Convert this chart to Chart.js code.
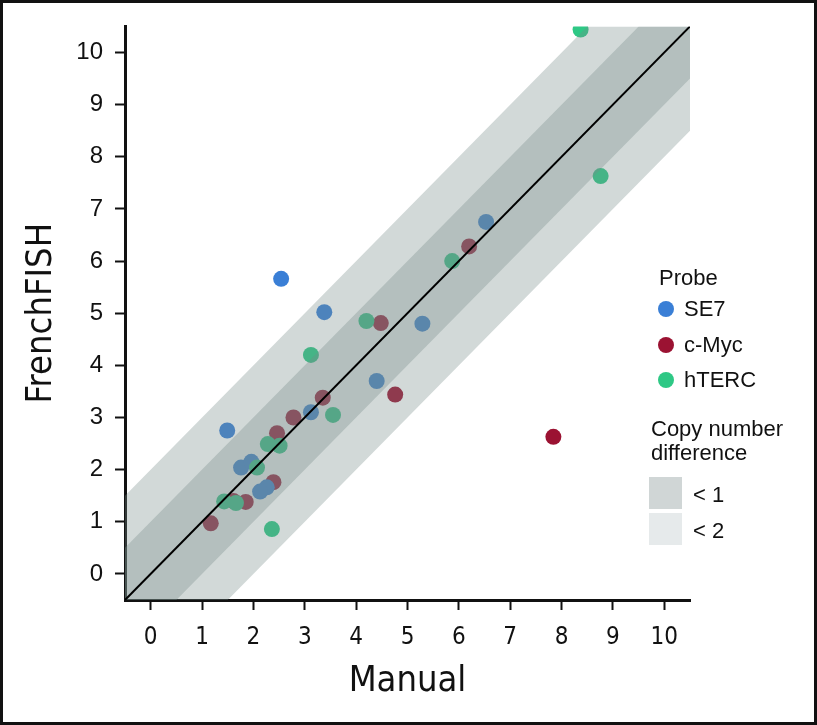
<!DOCTYPE html>
<html>
<head>
<meta charset="utf-8">
<script src="https://cdn.jsdelivr.net/npm/chart.js@4.4.1/dist/chart.umd.min.js"></script>
<style>
  html, body { margin: 0; padding: 0; background: #ffffff; }
  #wrap { position: relative; width: 817px; height: 725px; overflow: hidden; background: #fff; }
  #chart { position: absolute; left: 0; top: 0; }
  #frame { position: absolute; left: 0; top: 0; width: 817px; height: 725px; box-sizing: border-box; border: 3px solid #111; pointer-events: none; }
  .lg { position: absolute; font-family: 'Liberation Sans', Arial, sans-serif; font-size: 22px; line-height: 22px; color: #111; white-space: nowrap; }
  .dot { position: absolute; width: 16px; height: 16px; border-radius: 50%; }
  .sw { position: absolute; width: 33px; height: 32px; }
</style>
</head>
<body>
<div id="wrap">
  <canvas id="chart" width="817" height="725"></canvas>
  <div id="legend"></div>
  <div id="frame"></div>
</div>
<script>
// ---- data ----
const xTickValues = [0, 1, 2, 3, 4, 5, 6, 7, 8, 9, 10];
const yTickValues = [0, 1, 2, 3, 4, 5, 6, 7, 8, 9, 10];
const axisMin = -0.5;
const axisMax = 10.5;

const probeNames = ['SE7', 'c-Myc', 'hTERC'];

const se7Manual     = [2.54, 3.38, 5.29, 4.40, 3.12, 1.49, 1.76, 1.96, 2.26, 2.13, 6.53];
const se7French     = [5.66, 5.02, 4.80, 3.70, 3.10, 2.75, 2.04, 2.15, 1.66, 1.58, 6.75];

const cmycManual    = [4.48, 4.76, 3.35, 2.78, 2.46, 2.39, 1.61, 1.85, 1.17, 6.20, 7.84];
const cmycFrench    = [4.81, 3.44, 3.38, 3.00, 2.70, 1.76, 1.40, 1.38, 0.97, 6.28, 2.63];

const htercManual   = [4.20, 3.12, 3.55, 2.28, 2.51, 2.07, 1.43, 1.66, 2.36, 8.37, 8.76, 5.87];
const htercFrench   = [4.85, 4.20, 3.05, 2.49, 2.46, 2.04, 1.39, 1.36, 0.86, 10.44, 7.63, 6.00];

const bandLabels = ['< 1', '< 2'];
const bandHalfWidths = [1, 2];

// ---- styles ----
const probeColors = ['#3a7fd6', '#9b1232', '#2ec885'];
const bandFill = 'rgba(119,139,137,0.33)';
const swatchColors = ['#d0d6d6', '#e6eaeb'];

function pts(xs, ys) { return xs.map((x, i) => ({ x: x, y: ys[i] })); }

function bandShape(d) {
  return [
    { x: axisMin, y: axisMin },
    { x: axisMin + d, y: axisMin },
    { x: axisMax, y: axisMax - d },
    { x: axisMax, y: axisMax },
    { x: axisMax - d, y: axisMax },
    { x: axisMin, y: axisMin + d },
    { x: axisMin, y: axisMin }
  ];
}

const pointDs = (label, data, color) => ({
  type: 'scatter', label, data,
  pointRadius: 8, pointBorderWidth: 0, pointBackgroundColor: color,
  pointHoverRadius: 8, order: 3
});

const datasets = [
  pointDs(probeNames[2], pts(htercManual, htercFrench), probeColors[2]),
  pointDs(probeNames[0], pts(se7Manual, se7French), probeColors[0]),
  pointDs(probeNames[1], pts(cmycManual, cmycFrench), probeColors[1]),
];
bandHalfWidths.forEach((d, i) => {
  datasets.push({
    type: 'line', label: bandLabels[i], data: bandShape(d),
    borderWidth: 0, borderColor: 'rgba(0,0,0,0)', backgroundColor: bandFill,
    fill: 'shape', pointRadius: 0, tension: 0, order: 2
  });
});
datasets.push({
  type: 'line', label: 'identity',
  data: [{ x: axisMin, y: axisMin }, { x: axisMax, y: axisMax }],
  borderWidth: 2, borderColor: '#000', fill: false, pointRadius: 0, tension: 0, order: 1
});

const narrow = "'Liberation Sans Narrow', 'Arial Narrow', 'DejaVu Sans Condensed', sans-serif";
const regular = "'Liberation Sans', Arial, sans-serif";

new Chart(document.getElementById('chart'), {
  type: 'scatter',
  data: { datasets },
  options: {
    responsive: false,
    devicePixelRatio: 1,
    animation: false,
    events: [],
    layout: { padding: { left: 0, top: 24, right: 127, bottom: 0 } },
    plugins: { legend: { display: false }, tooltip: { enabled: false } },
    scales: {
      x: {
        type: 'linear', min: axisMin, max: axisMax,
        afterBuildTicks: s => { s.ticks = xTickValues.map(v => ({ value: v })); },
        afterFit: s => { s.height = 125; },
        grid: { drawOnChartArea: false, drawTicks: true, tickLength: 10, tickWidth: 2, tickColor: '#111' },
        border: { display: true, color: '#111', width: 3 },
        ticks: { color: '#111', padding: 13, font: { family: narrow, size: 24 }, maxRotation: 0 },
        title: { display: true, text: 'Manual', color: '#111', font: { family: narrow, size: 36 }, padding: { top: 0, bottom: 22 } }
      },
      y: {
        type: 'linear', min: axisMin, max: axisMax,
        afterBuildTicks: s => { s.ticks = yTickValues.map(v => ({ value: v })); },
        afterFit: s => { s.width = 125; },
        grid: { drawOnChartArea: false, drawTicks: true, tickLength: 10, tickWidth: 2, tickColor: '#111' },
        border: { display: true, color: '#111', width: 3 },
        ticks: { color: '#111', padding: 12, font: { family: regular, size: 24 } },
        title: { display: true, text: 'FrenchFISH', color: '#111', font: { family: narrow, size: 36 }, padding: { top: 20, bottom: 0 } }
      }
    }
  }
});

// ---- legend (HTML text) ----
const lg = document.getElementById('legend');
function addText(txt, left, top) {
  const d = document.createElement('div'); d.className = 'lg'; d.textContent = txt;
  d.style.left = left + 'px'; d.style.top = top + 'px'; lg.appendChild(d);
}
addText('Probe', 659, 267);
const legendOrder = [0, 1, 2];
const dotY = [309, 345, 380];
legendOrder.forEach((k, i) => {
  const dot = document.createElement('div'); dot.className = 'dot';
  dot.style.background = probeColors[k];
  dot.style.left = (666 - 8) + 'px'; dot.style.top = (dotY[i] - 8) + 'px';
  lg.appendChild(dot);
  addText(probeNames[k], 684, dotY[i] - 11);
});
addText('Copy number', 651, 418);
addText('difference', 651, 442);
const swTop = [477, 513];
bandLabels.forEach((lab, i) => {
  const s = document.createElement('div'); s.className = 'sw';
  s.style.background = swatchColors[i]; s.style.left = '649px'; s.style.top = swTop[i] + 'px';
  lg.appendChild(s);
  addText(lab, 693, swTop[i] + 7);
});
</script>
</body>
</html>
